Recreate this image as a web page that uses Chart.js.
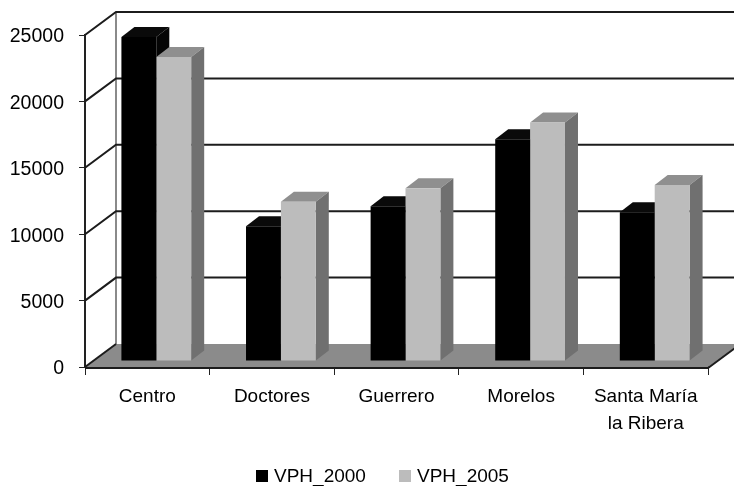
<!DOCTYPE html>
<html>
<head>
<meta charset="utf-8">
<style>
  html, body { margin: 0; padding: 0; background: #fff; }
  canvas { display: block; }
</style>
<script src="https://cdn.jsdelivr.net/npm/chart.js@4"></script>
</head>
<body>
<canvas id="meuGrafico" width="734" height="486"></canvas>
<script>
const categorias = ['Centro', 'Doctores', 'Guerrero', 'Morelos', ['Santa María', 'la Ribera']];
const vph2000 = [24400, 10150, 11650, 16700, 11200];
const vph2005 = [22900, 12000, 13000, 17950, 13250];

const fonte = '"Liberation Sans", Arial, sans-serif';

// profundidade da caixa 3D (parede do fundo) e das barras
const fundoX = 31, fundoY = 23;
const barraX = 9, barraY = 6;
const profX = 13, profY = 10;

function poligono(ctx, pontos, cor) {
    ctx.beginPath();
    pontos.forEach(function (p, i) {
        if (i == 0) ctx.moveTo(p[0], p[1]); else ctx.lineTo(p[0], p[1]);
    });
    ctx.closePath();
    ctx.fillStyle = cor;
    ctx.fill();
}

// paredes, chao e faces laterais das barras
const caixa3d = {
    id: 'caixa3d',
    beforeDatasetsDraw(chart) {
        const ctx = chart.ctx;
        const a = chart.chartArea;
        const escalaY = chart.scales.y;
        ctx.save();

        // chao
        poligono(ctx, [[a.left, a.bottom], [a.right, a.bottom], [a.right + fundoX, a.bottom - fundoY], [a.left + fundoX, a.bottom - fundoY]], '#8b8b8b');

        // aresta do fundo
        ctx.strokeStyle = '#8a8a8a';
        ctx.lineWidth = 2;
        ctx.beginPath();
        ctx.moveTo(a.left + fundoX, a.top - fundoY);
        ctx.lineTo(a.left + fundoX, a.bottom - fundoY);
        ctx.stroke();

        // linhas de grade na parede lateral e no fundo
        ctx.strokeStyle = '#1c1c1c';
        escalaY.ticks.forEach(function (t) {
            const y = escalaY.getPixelForValue(t.value);
            ctx.beginPath();
            ctx.moveTo(a.left, y);
            ctx.lineTo(a.left + fundoX, y - fundoY);
            if (t.value > 0) ctx.lineTo(a.right + fundoX, y - fundoY);
            ctx.stroke();
        });

        // borda frontal do chao
        ctx.beginPath();
        ctx.moveTo(a.left, a.bottom + 1);
        ctx.lineTo(a.right, a.bottom + 1);
        ctx.lineTo(a.right + fundoX, a.bottom + 1 - fundoY);
        ctx.stroke();

        // topo e lateral das barras
        const cores = [['#0a0a0a', '#050505'], ['#8f8f8f', '#707070']];
        chart.data.datasets.forEach(function (ds, d) {
            chart.getDatasetMeta(d).data.forEach(function (b) {
                const e = b.x - b.width / 2 + barraX;
                const r = b.x + b.width / 2 + barraX;
                const t = b.y - barraY;
                const f = b.base - barraY;
                poligono(ctx, [[e, t], [r, t], [r + profX, t - profY], [e + profX, t - profY]], cores[d][0]);
                poligono(ctx, [[r, t], [r + profX, t - profY], [r + profX, f - profY], [r, f]], cores[d][1]);
            });
        });
        ctx.restore();

        // as faces da frente sao desenhadas pelo Chart.js, deslocadas
        ctx.save();
        ctx.translate(barraX, -barraY);
    },
    afterDatasetsDraw(chart) {
        chart.ctx.restore();
    },
    afterDraw(chart) {
        // legenda
        const ctx = chart.ctx;
        const caixas = [256, 399];
        ctx.save();
        ctx.font = '19px ' + fonte;
        ctx.textBaseline = 'middle';
        chart.data.datasets.forEach(function (ds, d) {
            ctx.fillStyle = ds.backgroundColor;
            ctx.fillRect(caixas[d], 470, 12, 12);
            ctx.fillStyle = '#000';
            ctx.fillText(ds.label, caixas[d] + 18, 477);
        });
        ctx.restore();
    }
};

var configuracao = {
    type: 'bar',
    data: {
        labels: categorias,
        datasets: [
            { label: 'VPH_2000', data: vph2000, backgroundColor: '#000000', clip: false },
            { label: 'VPH_2005', data: vph2005, backgroundColor: '#bcbcbc', clip: false }
        ]
    },
    options: {
        responsive: false,
        animation: false,
        categoryPercentage: 0.56,
        barPercentage: 1,
        layout: {
            autoPadding: false,
            padding: { left: 0, right: 26, top: 35, bottom: 0 }
        },
        plugins: {
            legend: { display: false },
            tooltip: { enabled: false }
        },
        scales: {
            x: {
                afterFit(escala) { escala.height = 119; },
                grid: { drawOnChartArea: false, color: '#222', tickLength: 8, lineWidth: 1 },
                border: { color: '#222', width: 2 },
                ticks: {
                    color: '#000',
                    autoSkip: false,
                    maxRotation: 0,
                    padding: 8,
                    font: { family: fonte, size: 19, lineHeight: 1.42 }
                }
            },
            y: {
                min: 0,
                max: 25000,
                afterFit(escala) { escala.width = 85; },
                grid: { drawOnChartArea: false, color: '#222', tickLength: 6, lineWidth: 1 },
                border: { color: '#222', width: 2 },
                ticks: {
                    stepSize: 5000,
                    color: '#000',
                    padding: 15,
                    labelOffset: 2,
                    callback: function (v) { return String(v); },
                    font: { family: fonte, size: 19.5 }
                }
            }
        }
    },
    plugins: [caixa3d]
};

var meuGrafico = new Chart(document.getElementById('meuGrafico'), configuracao);
</script>
</body>
</html>
